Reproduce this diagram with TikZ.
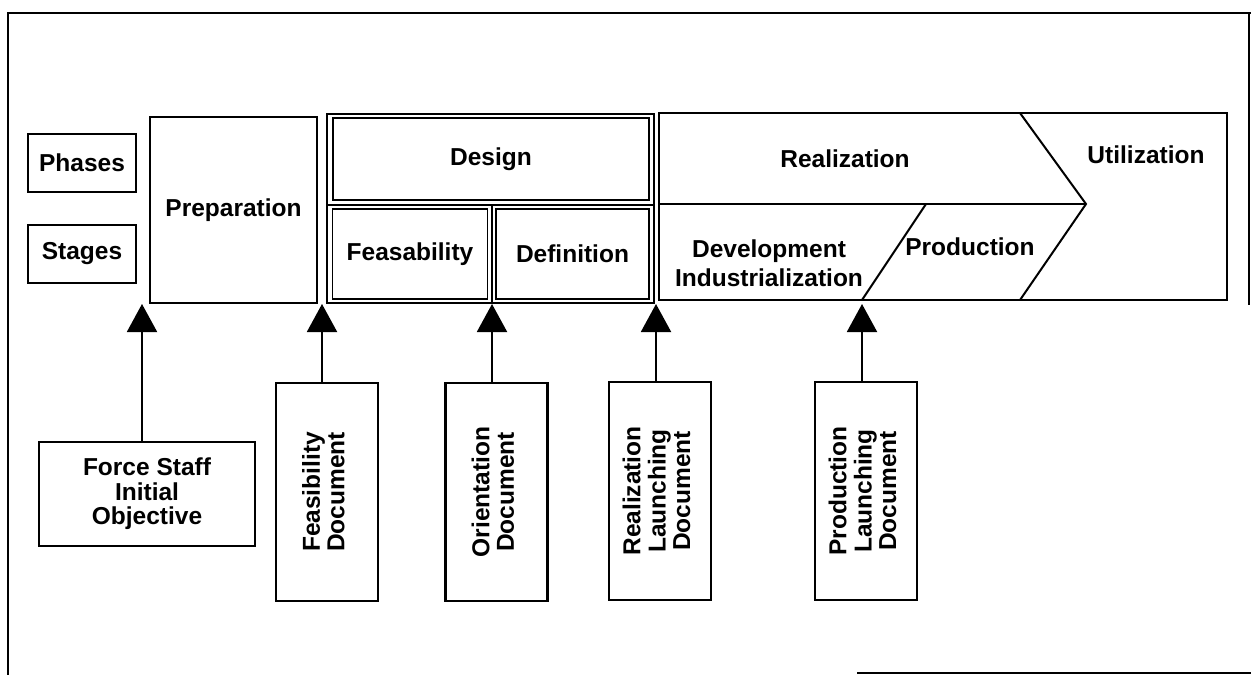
\documentclass[tikz,border=0pt]{standalone}
\usepackage{fontspec}
\setmainfont{Liberation Sans}
\usetikzlibrary{arrows.meta,positioning}

\newcommand{\doctext}[1]{\rotatebox{90}{\begin{tabular}{@{}c@{}}#1\end{tabular}}}

\tikzset{
  box/.style={draw, line width=2.4pt, inner sep=0pt, align=center},
  cell/.style={box, line width=1.8pt},
  doc/.style={box, minimum width=102pt, minimum height=218pt},
  lbl/.style={anchor=base},
  up/.style={line width=2pt, -{Triangle[width=30pt,length=28pt]}},
}

\begin{document}
\begin{tikzpicture}[x=1pt, y=-1pt, font=\fontsize{24.5}{24.5}\selectfont\bfseries]
\useasboundingbox (0,0) rectangle (1251,675);
% frame
\draw[line width=2pt] (1251,13) -- (8,13) -- (8,675);
\draw[line width=1.2pt] (1249,13) -- (1249,305);
\draw[line width=2pt] (857,673) -- (1251,673);

% row headers
\node[box, minimum width=108pt, minimum height=58pt] (phases) at (82,163) {Phases};
\node[box, minimum width=108pt, minimum height=58pt] (stages) at (82,254) {Stages};
\node[box, minimum width=167pt, minimum height=186pt] (prep) at (233.5,210) {Preparation};

% design phase
\draw[line width=1.2pt] (327,114) rectangle (654,303);
\draw[line width=1.2pt] (327,205) -- (654,205) (492,205) -- (492,303);
\node[cell, minimum width=316pt, minimum height=82pt] (design) at (491,159) {Design};
\node[cell, minimum width=155pt, minimum height=90pt] (feas) at (410,254) {Feasability};
\node[cell, minimum width=153pt, minimum height=90pt] (defn) at (572.5,254) {Definition};

% realization and utilization
\draw[line width=2.4pt] (659,113) rectangle (1227,300);
\draw[line width=2pt] (659,204) -- (1086,204);
\draw[line width=2pt] (1020,113) -- (1086,204) -- (1020,300); % chevron
\draw[line width=2pt] (926,204) -- (862,300);
\node[lbl] (real) at (845,167) {Realization};
\node[lbl] (util) at (1146,163) {Utilization};
\node[lbl] (devt) at (769,257) {Development};
\node[lbl] (indus) at (769,286) {Industrialization};
\node[lbl] (prod) at (970,255) {Production};

% documents
\node[box, minimum width=216pt, minimum height=104pt] (fso) at (147,494) {Force Staff\\Initial\\Objective};
\node[doc] (feasdoc) at (327,492) {\doctext{Feasibility\\Document}};
\node[doc] (orient) at (496.5,492) {\doctext{Orientation\\Document}};
\node[doc] (realdoc) at (660,491) {\doctext{Realization\\Launching\\Document}};
\node[doc] (proddoc) at (866,491) {\doctext{Production\\Launching\\Document}};

% milestones
\coordinate (t1) at (142,304);
\coordinate (t2) at (322,304);
\coordinate (t3) at (492,304);
\coordinate (t4) at (656,304);
\coordinate (t5) at (862,304);
\draw[up] (fso.north -| t1) -- (t1);
\draw[up] (feasdoc.north -| t2) -- (t2);
\draw[up] (orient.north -| t3) -- (t3);
\draw[up] (realdoc.north -| t4) -- (t4);
\draw[up] (proddoc.north -| t5) -- (t5);
\end{tikzpicture}
\end{document}
